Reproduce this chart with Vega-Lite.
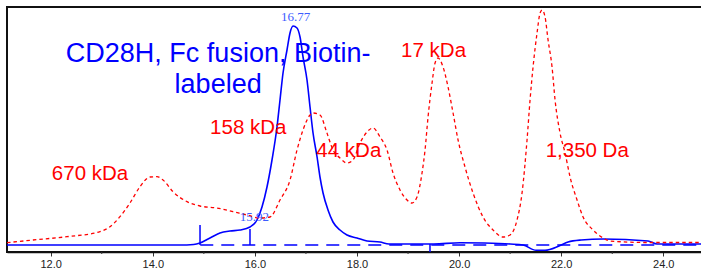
{
  "$schema": "https://vega.github.io/schema/vega-lite/v6.json",
  "width": 696,
  "height": 245,
  "autosize": {"type": "none"},
  "padding": {"left": 7, "top": 7, "right": 0, "bottom": 20},
  "background": "white",
  "config": {"view": {"stroke": "#111111", "strokeWidth": 2}, "font": "Liberation Sans"},
  "datasets": {
    "red": [
      {"t": 11.144, "v": 9.3}, {"t": 11.653, "v": 12}, {"t": 12.319, "v": 15.3}, {"t": 12.966, "v": 20.3},
      {"t": 13.162, "v": 25.3}, {"t": 13.357, "v": 35.3}, {"t": 13.553, "v": 49}, {"t": 13.749, "v": 65.3},
      {"t": 13.945, "v": 75}, {"t": 14.082, "v": 75.3}, {"t": 14.2, "v": 72}, {"t": 14.396, "v": 60.3},
      {"t": 14.67, "v": 50.3}, {"t": 14.925, "v": 46}, {"t": 15.258, "v": 44}, {"t": 15.571, "v": 40.3},
      {"t": 15.845, "v": 37}, {"t": 16.1, "v": 34}, {"t": 16.296, "v": 35}, {"t": 16.492, "v": 52},
      {"t": 16.688, "v": 72}, {"t": 16.825, "v": 102}, {"t": 16.943, "v": 122}, {"t": 17.08, "v": 137},
      {"t": 17.139, "v": 139}, {"t": 17.275, "v": 137}, {"t": 17.412, "v": 119}, {"t": 17.53, "v": 102},
      {"t": 17.667, "v": 94}, {"t": 17.804, "v": 89}, {"t": 17.922, "v": 92}, {"t": 18.059, "v": 109},
      {"t": 18.196, "v": 120}, {"t": 18.314, "v": 124}, {"t": 18.451, "v": 115}, {"t": 18.588, "v": 102},
      {"t": 18.706, "v": 79}, {"t": 18.843, "v": 62}, {"t": 18.98, "v": 52}, {"t": 19.078, "v": 49},
      {"t": 19.176, "v": 55}, {"t": 19.274, "v": 79}, {"t": 19.333, "v": 102}, {"t": 19.392, "v": 135},
      {"t": 19.47, "v": 169}, {"t": 19.529, "v": 189}, {"t": 19.588, "v": 194}, {"t": 19.686, "v": 185},
      {"t": 19.784, "v": 165}, {"t": 19.882, "v": 139}, {"t": 19.98, "v": 112}, {"t": 20.116, "v": 85},
      {"t": 20.273, "v": 59}, {"t": 20.469, "v": 35}, {"t": 20.665, "v": 22}, {"t": 20.861, "v": 15},
      {"t": 20.998, "v": 17}, {"t": 21.135, "v": 32}, {"t": 21.233, "v": 59}, {"t": 21.331, "v": 112},
      {"t": 21.39, "v": 152}, {"t": 21.449, "v": 185}, {"t": 21.527, "v": 219}, {"t": 21.586, "v": 239},
      {"t": 21.625, "v": 242}, {"t": 21.684, "v": 235}, {"t": 21.743, "v": 212}, {"t": 21.821, "v": 185},
      {"t": 21.88, "v": 152}, {"t": 21.978, "v": 119}, {"t": 22.076, "v": 99}, {"t": 22.174, "v": 75},
      {"t": 22.311, "v": 52}, {"t": 22.429, "v": 35}, {"t": 22.625, "v": 22}, {"t": 22.821, "v": 14},
      {"t": 22.958, "v": 11}, {"t": 23.683, "v": 9.5}, {"t": 24.778, "v": 9.5}
    ],
    "blue": [
      {"t": 11.144, "v": 7}, {"t": 14.533, "v": 7}, {"t": 14.8, "v": 7.5}, {"t": 14.925, "v": 9},
      {"t": 15.12, "v": 14}, {"t": 15.316, "v": 19}, {"t": 15.512, "v": 21}, {"t": 15.708, "v": 22},
      {"t": 15.904, "v": 25}, {"t": 16.041, "v": 32}, {"t": 16.139, "v": 45}, {"t": 16.237, "v": 65},
      {"t": 16.335, "v": 92}, {"t": 16.433, "v": 125}, {"t": 16.492, "v": 152}, {"t": 16.551, "v": 179},
      {"t": 16.629, "v": 202}, {"t": 16.688, "v": 219}, {"t": 16.747, "v": 226}, {"t": 16.825, "v": 224},
      {"t": 16.884, "v": 215}, {"t": 16.943, "v": 195}, {"t": 17.021, "v": 172}, {"t": 17.08, "v": 145},
      {"t": 17.139, "v": 119}, {"t": 17.218, "v": 95}, {"t": 17.275, "v": 75}, {"t": 17.335, "v": 59},
      {"t": 17.432, "v": 42}, {"t": 17.53, "v": 30}, {"t": 17.667, "v": 22}, {"t": 17.804, "v": 17},
      {"t": 18.0, "v": 14}, {"t": 18.196, "v": 11}, {"t": 18.451, "v": 10}, {"t": 18.627, "v": 8},
      {"t": 19.5, "v": 8}, {"t": 20.019, "v": 9.3}, {"t": 20.5, "v": 9}, {"t": 21.0, "v": 8},
      {"t": 21.253, "v": 7}, {"t": 21.508, "v": 1.7}, {"t": 21.684, "v": 1.7}, {"t": 21.958, "v": 6},
      {"t": 22.135, "v": 10}, {"t": 22.39, "v": 12}, {"t": 22.821, "v": 13}, {"t": 23.702, "v": 11},
      {"t": 23.878, "v": 8}, {"t": 24.778, "v": 8}
    ],
    "base": [{"t": 14.93, "v": 7}, {"t": 24.778, "v": 7}],
    "marks": [
      {"t": 14.925, "v": 7, "v2": 27},
      {"t": 15.904, "v": 7, "v2": 23},
      {"t": 19.43, "v": 0, "v2": 8}
    ],
    "minor": [
      {"t": 13, "v": 0, "v2": -2}, {"t": 15, "v": 0, "v2": -2}, {"t": 17, "v": 0, "v2": -2},
      {"t": 19, "v": 0, "v2": -2}, {"t": 21, "v": 0, "v2": -2}, {"t": 23, "v": 0, "v2": -2}
    ],
    "title": [{"t": 15.28, "v": 190, "label": "CD28H, Fc fusion, Biotin-\nlabeled"}],
    "redlabels": [
      {"t": 12.77, "v": 72, "label": "670 kDa"},
      {"t": 15.87, "v": 118, "label": "158 kDa"},
      {"t": 17.84, "v": 95, "label": "44 kDa"},
      {"t": 19.5, "v": 195, "label": "17 kDa"},
      {"t": 22.51, "v": 95, "label": "1,350 Da"}
    ],
    "peaks": [
      {"t": 16.8, "v": 235, "label": "16.77"},
      {"t": 15.99, "v": 35, "label": "15.92"}
    ]
  },
  "encoding": {
    "x": {
      "field": "t", "type": "quantitative",
      "scale": {"domain": [11.144, 24.778], "nice": false, "zero": false},
      "axis": {
        "values": [12, 14, 16, 18, 20, 22, 24], "format": ".1f", "title": null, "grid": false,
        "domainColor": "#111111", "domainWidth": 1.5, "tickColor": "#333333", "tickSize": 4,
        "tickWidth": 1, "labelFont": "Liberation Sans", "labelFontSize": 11, "labelColor": "#222222",
        "labelPadding": 2, "labelFlush": false
      }
    },
    "y": {
      "field": "v", "type": "quantitative",
      "scale": {"domain": [0, 245], "nice": false, "zero": false},
      "axis": null
    }
  },
  "layer": [
    {"data": {"name": "minor"}, "mark": {"type": "rule", "color": "#333333", "strokeWidth": 1, "clip": false},
     "encoding": {"y2": {"field": "v2"}}},
    {"data": {"name": "base"}, "mark": {"type": "line", "color": "#0000ff", "strokeWidth": 1.5, "strokeDash": [13, 8]}},
    {"data": {"name": "blue"}, "mark": {"type": "line", "color": "#0000ff", "strokeWidth": 1.6, "interpolate": "monotone"}},
    {"data": {"name": "marks"}, "mark": {"type": "rule", "color": "#0000ff", "strokeWidth": 1.5},
     "encoding": {"y2": {"field": "v2"}}},
    {"data": {"name": "red"}, "mark": {"type": "line", "color": "#ff0000", "strokeWidth": 1.3, "strokeDash": [3.5, 3], "interpolate": "monotone"}},
    {"data": {"name": "title"}, "mark": {"type": "text", "color": "#0000ff", "fontSize": 27, "align": "center", "baseline": "alphabetic", "lineBreak": "\n", "lineHeight": 31, "font": "Liberation Sans"},
     "encoding": {"text": {"field": "label"}}},
    {"data": {"name": "redlabels"}, "mark": {"type": "text", "color": "#ff0000", "fontSize": 20.5, "align": "center", "baseline": "alphabetic", "font": "Liberation Sans"},
     "encoding": {"text": {"field": "label"}}},
    {"data": {"name": "peaks"}, "mark": {"type": "text", "color": "#3d5cff", "fontSize": 13, "align": "center", "baseline": "middle", "font": "Liberation Serif"},
     "encoding": {"text": {"field": "label"}}}
  ]
}
